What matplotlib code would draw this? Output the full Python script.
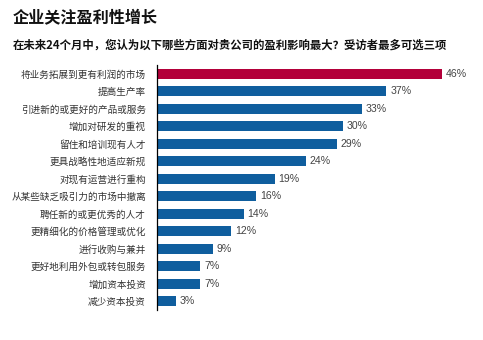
import numpy as np
import matplotlib
matplotlib.use('Agg')
import matplotlib.pyplot as plt

plt.rcParams['font.family'] = ['Noto Sans CJK SC', 'DejaVu Sans']

title = '企业关注盈利性增长'
subtitle = '在未来24个月中，您认为以下哪些方面对贵公司的盈利影响最大？受访者最多可选三项'
categories = ['将业务拓展到更有利润的市场', '提高生产率', '引进新的或更好的产品或服务',
              '增加对研发的重视', '留住和培训现有人才', '更具战略性地适应新规',
              '对现有运营进行重构', '从某些缺乏吸引力的市场中撤离', '聘任新的或更优秀的人才',
              '更精细化的价格管理或优化', '进行收购与兼并', '更好地利用外包或转包服务',
              '增加资本投资', '减少资本投资']
values = [46, 37, 33, 30, 29, 24, 19, 16, 14, 12, 9, 7, 7, 3]

RED = '#b3003a'
BLUE = '#0f5e9e'
colors = [RED] + [BLUE] * (len(values) - 1)

fig = plt.figure(figsize=(4.83, 3.40), dpi=100)
ax = fig.add_axes([157 / 483, 30 / 340, 310 / 483, 245 / 340])

y = np.arange(len(values))
ax.barh(y, values, height=0.57, color=colors)
ax.set_ylim(len(values) - 0.5, -0.5)
ax.set_xlim(0, 50)

ax.set_yticks(y)
ax.set_yticklabels(categories, fontsize=6.9, color='#333333')
ax.tick_params(axis='y', length=0, pad=8)
ax.set_xticks([])
for s in ['top', 'right', 'bottom']:
    ax.spines[s].set_visible(False)
ax.spines['left'].set_linewidth(0.9)

for yi, v in zip(y, values):
    ax.text(v + 0.6, yi, f'{v}%', va='center', ha='left', fontsize=7.6,
            color='#444444', family=['Liberation Sans', 'DejaVu Sans'])

fig.text(13 / 483, 1 - 17 / 340, title, fontsize=11.6, fontweight='bold',
         va='center', ha='left', color='#111111')
fig.text(13 / 483, 1 - 45 / 340, subtitle, fontsize=8.2, fontweight='bold',
         va='center', ha='left', color='#111111')

fig.savefig('out.png', dpi=100)
